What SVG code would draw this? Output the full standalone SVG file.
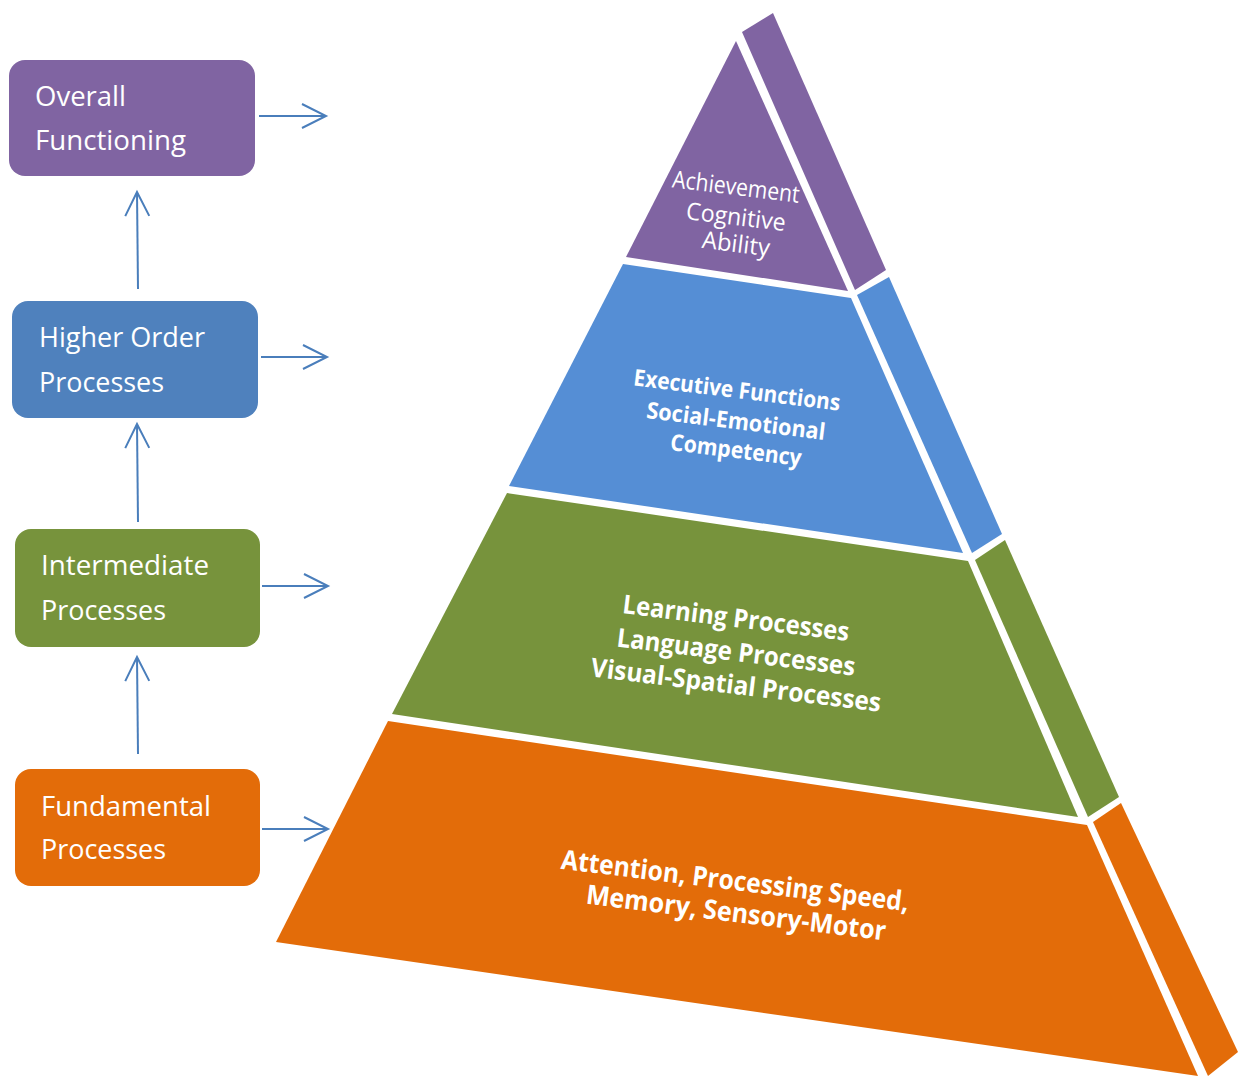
<svg xmlns="http://www.w3.org/2000/svg" width="1238" height="1076" viewBox="0 0 1238 1076">
<style>
.box-text{font-family:"Open Sans","Liberation Sans",sans-serif;font-size:27px;fill:#fff}
.pt{font-family:"Open Sans","Liberation Sans",sans-serif;fill:#fff;text-anchor:middle}
.pb{font-weight:bold}
.conn{stroke:#4A7EBB;stroke-width:2;fill:none}
.purple{fill:#8064A2}.blue{fill:#4F81BD}.pblue{fill:#558ED5}.green{fill:#77933C}.orange{fill:#E36C09}
</style>
<defs>
<marker id="open" markerUnits="userSpaceOnUse" markerWidth="30" markerHeight="30" viewBox="-26 -14 30 28" refX="0" refY="0" orient="auto">
<path d="M-24,-12 L0,0 L-24,12" fill="none" stroke="#4A7EBB" stroke-width="2"/>
</marker>
</defs>
<rect width="1238" height="1076" fill="#fff"/>

<g id="pyramid">
<g id="layer-top">
<polygon class="purple" points="736,41 626,257 848,291"/>
<polygon class="purple" points="742,32 773,13 886,270 855,290"/>
<text class="pt" font-size="24" transform="rotate(7 735 195)" x="735" y="195" textLength="128" lengthAdjust="spacingAndGlyphs">Achievement</text>
<text class="pt" font-size="24" transform="rotate(7 735 225)" x="735" y="225" textLength="100" lengthAdjust="spacingAndGlyphs">Cognitive</text>
<text class="pt" font-size="24" transform="rotate(7 735 252)" x="735" y="252" textLength="68" lengthAdjust="spacingAndGlyphs">Ability</text>
</g>
<g id="layer-higher">
<polygon class="pblue" points="623,264 851,298 963,553 509,486"/>
<polygon class="pblue" points="857,295 889,277 1002,534 972,553"/>
<text class="pt pb" font-size="23" transform="rotate(7 736 398)" x="736" y="398" textLength="208" lengthAdjust="spacingAndGlyphs">Executive Functions</text>
<text class="pt pb" font-size="23" transform="rotate(7 735 429)" x="735" y="429" textLength="180" lengthAdjust="spacingAndGlyphs">Social-Emotional</text>
<text class="pt pb" font-size="23" transform="rotate(7 735 458)" x="735" y="458" textLength="132" lengthAdjust="spacingAndGlyphs">Competency</text>
</g>
<g id="layer-intermediate">
<polygon class="green" points="507,493 968,561 1078,817 392,714"/>
<polygon class="green" points="975,560 1005,540 1119,797 1088,817"/>
<text class="pt pb" font-size="26" transform="rotate(7 735 627)" x="735" y="627" textLength="228" lengthAdjust="spacingAndGlyphs">Learning Processes</text>
<text class="pt pb" font-size="26" transform="rotate(7 735 661)" x="735" y="661" textLength="240" lengthAdjust="spacingAndGlyphs">Language Processes</text>
<text class="pt pb" font-size="26" transform="rotate(7 735 694)" x="735" y="694" textLength="292" lengthAdjust="spacingAndGlyphs">Visual-Spatial Processes</text>
</g>
<g id="layer-fundamental">
<polygon class="orange" points="388,721 1087,825 1198,1076 276,942"/>
<polygon class="orange" points="1093,822 1121,803 1238,1052 1208,1076"/>
<text class="pt pb" font-size="27" transform="rotate(7 734 890)" x="734" y="890" textLength="350" lengthAdjust="spacingAndGlyphs">Attention, Processing Speed,</text>
<text class="pt pb" font-size="27" transform="rotate(7 735 922)" x="735" y="922" textLength="302" lengthAdjust="spacingAndGlyphs">Memory, Sensory-Motor</text>
</g>
</g>

<g id="node-overall">
<rect class="purple" x="9" y="60" width="246" height="116" rx="16"/>
<text class="box-text" x="35" y="106" textLength="91" lengthAdjust="spacingAndGlyphs">Overall</text>
<text class="box-text" x="35" y="150" textLength="151" lengthAdjust="spacingAndGlyphs">Functioning</text>
</g>
<g id="node-higher">
<rect class="blue" x="12" y="301" width="246" height="117" rx="16"/>
<text class="box-text" x="39" y="347" textLength="166" lengthAdjust="spacingAndGlyphs">Higher Order</text>
<text class="box-text" x="39" y="392" textLength="125" lengthAdjust="spacingAndGlyphs">Processes</text>
</g>
<g id="node-intermediate">
<rect class="green" x="15" y="529" width="245" height="118" rx="16"/>
<text class="box-text" x="41" y="575" textLength="168" lengthAdjust="spacingAndGlyphs">Intermediate</text>
<text class="box-text" x="41" y="620" textLength="125" lengthAdjust="spacingAndGlyphs">Processes</text>
</g>
<g id="node-fundamental">
<rect class="orange" x="15" y="769" width="245" height="117" rx="16"/>
<text class="box-text" x="41" y="816" textLength="170" lengthAdjust="spacingAndGlyphs">Fundamental</text>
<text class="box-text" x="41" y="859" textLength="125" lengthAdjust="spacingAndGlyphs">Processes</text>
</g>

<g id="connectors">
<line class="conn" x1="138" y1="289" x2="137" y2="192" marker-end="url(#open)"/>
<line class="conn" x1="138" y1="522" x2="137" y2="424" marker-end="url(#open)"/>
<line class="conn" x1="138" y1="754" x2="137" y2="657" marker-end="url(#open)"/>
<line class="conn" x1="259" y1="116" x2="326" y2="116" marker-end="url(#open)"/>
<line class="conn" x1="261" y1="357" x2="327" y2="357" marker-end="url(#open)"/>
<line class="conn" x1="262" y1="586" x2="328" y2="586" marker-end="url(#open)"/>
<line class="conn" x1="262" y1="829" x2="328" y2="829" marker-end="url(#open)"/>
</g>
</svg>
